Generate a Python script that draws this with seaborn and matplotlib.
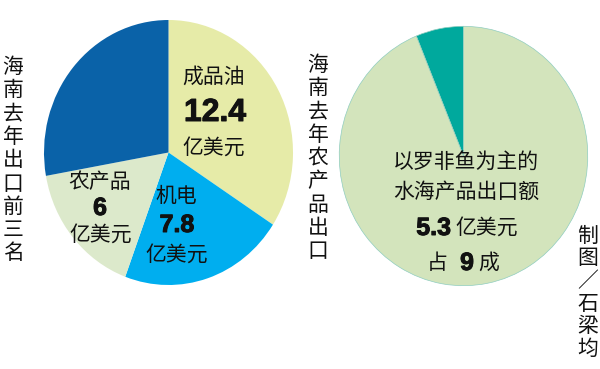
import matplotlib
matplotlib.use('Agg')
import matplotlib.pyplot as plt
import matplotlib.patheffects as pe
import seaborn as sns

sns.set_theme(style='white')
CJK = ['Noto Sans CJK SC', 'DejaVu Sans']
NUM = ['Liberation Sans', 'DejaVu Sans']
plt.rcParams['font.family'] = CJK

# left pie: Hainan top-3 exports last year (100 million USD)
export_names = ['成品油', '机电', '农产品', '其他']
export_values = [12.4, 7.8, 6.0, 10.1]
export_colors = ['#E6EBA8', '#00AEEF', '#DCE9CB', '#0A62A8']

# right pie: share of aquatic products in agricultural exports
agri_names = ['其他农产品', '水海产品']
agri_values = [6.2, 93.8]
agri_colors = ['#00A99D', '#D3E4BC']

W, H = 600, 369
fig = plt.figure(figsize=(6.0, 3.69), dpi=100)
fig.patch.set_facecolor('white')


def px(x, y):
    return x / W, 1 - y / H


def pie_axes(left, top, right, bottom):
    ax = fig.add_axes([left / W, 1 - bottom / H, (right - left) / W, (bottom - top) / H])
    return ax


ax1 = pie_axes(44, 20, 293, 285)
ax1.pie(export_values, colors=export_colors, startangle=90, counterclock=False,
        wedgeprops={'linewidth': 0})
ax1.set_aspect('auto')
ax1.set_xlim(-1, 1)
ax1.set_ylim(-1, 1)
ax1.axis('off')

ax2 = pie_axes(338, 25, 589, 287)
ax2.pie(agri_values, colors=agri_colors, startangle=90, counterclock=True,
        wedgeprops={'linewidth': 0.5, 'edgecolor': '#8FCDBF'})
ax2.set_aspect('auto')
ax2.set_xlim(-1.01, 1.01)
ax2.set_ylim(-1.01, 1.01)
ax2.axis('off')

heavy = [pe.withStroke(linewidth=0.7, foreground='#111111')]


def label(x, y, s, size=15, bold=False, ha='center'):
    fam = NUM if bold else CJK
    t = fig.text(*px(x, y), s, ha=ha, va='center', fontsize=size, family=fam,
                 fontweight='bold' if bold else 'normal', color='#111111')
    if bold:
        t.set_path_effects(heavy)


def vertical(x, y0, s, pitch, size=15):
    for i, ch in enumerate(s):
        fig.text(*px(x, y0 + i * pitch), ch, ha='center', va='center',
                 fontsize=size, family=CJK, color='#111111')


# labels inside left pie
label(214, 77, '成品油')
label(215, 113, '12.4', size=23, bold=True)
label(214, 148, '亿美元')
label(100, 182, '农产品')
label(100, 208, '6', size=18, bold=True)
label(101, 235, '亿美元')
label(176, 196, '机电')
label(177, 225, '7.8', size=18, bold=True)
label(177, 255, '亿美元')

# labels inside right pie
label(466, 163, '以罗非鱼为主的')
label(466, 192, '水海产品出口额')
label(451, 228, '5.3', size=18, bold=True, ha='right')
label(455, 228, '亿美元', ha='left')
label(437, 263, '占')
label(467, 263, '9', size=18, bold=True)
label(489, 263, '成')

# vertical titles
vertical(13, 67, '海南去年出口前三名', 23.3)
vertical(318, 65, '海南去年农产品出口', 23.3)
vertical(588, 236, '制图／石梁均', 22.5)

fig.savefig('out.png', dpi=100, facecolor='white')
